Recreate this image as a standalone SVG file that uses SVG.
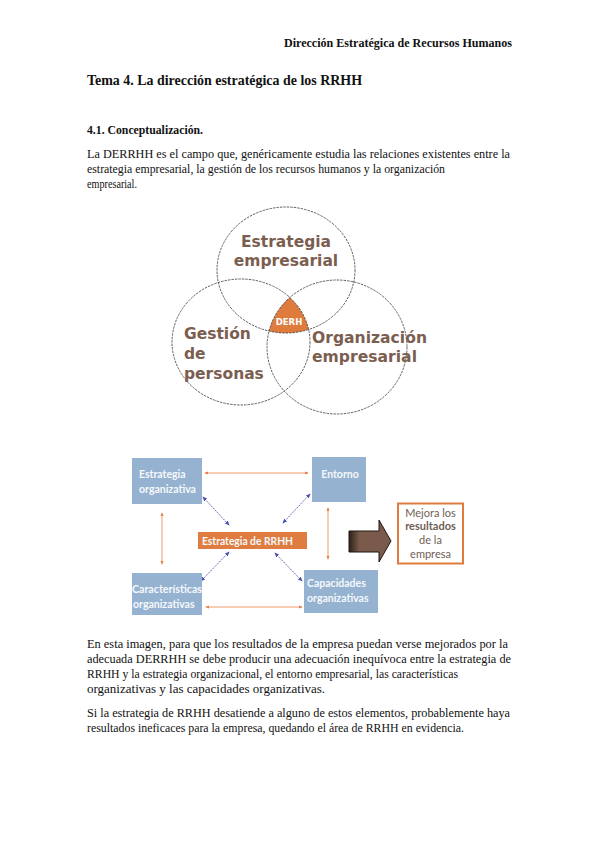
<svg xmlns="http://www.w3.org/2000/svg" width="599" height="848" viewBox="0 0 599 848">
<style>
.serif{font-family:"Liberation Serif","Times New Roman",serif;fill:#111}
.b{font-weight:bold}
.body{font-size:13px}
.venn{font-family:"DejaVu Sans",Verdana,sans-serif;font-weight:bold;fill:#7b5e50;font-size:15.5px}
.circ{fill:none;stroke:#3a3a3a;stroke-width:0.8;stroke-dasharray:2.5 1}
.box{fill:#95b3d1}
.bt{font-family:Lato,"Open Sans",sans-serif;font-weight:bold;font-size:10.5px;fill:#f6f8fb}
.oline{stroke:#ef9a6a;stroke-width:1;fill:none}
.bline{stroke:#5c5fc0;stroke-width:1;stroke-dasharray:1.5 1;fill:none}
.mt{font-family:Lato,"Open Sans",sans-serif;font-size:11px;fill:#6f5e55;text-anchor:middle}
</style>
<defs>
<marker id="oa" viewBox="0 0 6 6" refX="5" refY="3" markerWidth="4" markerHeight="4" orient="auto-start-reverse"><path d="M0,0.5 L6,3 L0,5.5 z" fill="#e8804a"/></marker>
<marker id="ba" viewBox="0 0 6 6" refX="5" refY="3" markerWidth="5" markerHeight="5" orient="auto-start-reverse"><path d="M0,0.5 L6,3 L0,5.5 z" fill="#4a4db5"/></marker>
<clipPath id="cL"><ellipse cx="241" cy="342" rx="69" ry="63"/></clipPath>
<clipPath id="cR"><ellipse cx="337" cy="347" rx="70" ry="67"/></clipPath>
<linearGradient id="ag" x1="0" y1="0" x2="1" y2="0"><stop offset="0" stop-color="#2e211b"/><stop offset="0.25" stop-color="#7a5a4a"/><stop offset="1" stop-color="#7a5a4a"/></linearGradient>
</defs>
<rect width="599" height="848" fill="#fff"/>

<g id="texts">
<text class="serif b" x="284" y="47" font-size="13" textLength="228" lengthAdjust="spacingAndGlyphs">Dirección Estratégica de Recursos Humanos</text>
<text class="serif b" x="87" y="85" font-size="14.5" textLength="275" lengthAdjust="spacingAndGlyphs">Tema 4. La dirección estratégica de los RRHH</text>
<text class="serif b" x="87" y="134" font-size="13" textLength="116" lengthAdjust="spacingAndGlyphs">4.1. Conceptualización.</text>
<text class="serif body" x="87" y="158" textLength="423" lengthAdjust="spacingAndGlyphs">La DERRHH es el campo que, genéricamente estudia las relaciones existentes entre la</text>
<text class="serif body" x="87" y="173" textLength="358" lengthAdjust="spacingAndGlyphs">estrategia empresarial, la gestión de los recursos humanos y la organización</text>
<text class="serif body" x="87" y="188" textLength="50" lengthAdjust="spacingAndGlyphs">empresarial.</text>

<text class="serif body" x="87" y="648" textLength="421" lengthAdjust="spacingAndGlyphs">En esta imagen, para que los resultados de la empresa puedan verse mejorados por la</text>
<text class="serif body" x="87" y="663" textLength="424" lengthAdjust="spacingAndGlyphs">adecuada DERRHH se debe producir una adecuación inequívoca entre la estrategia de</text>
<text class="serif body" x="87" y="678" textLength="371" lengthAdjust="spacingAndGlyphs">RRHH y la estrategia organizacional, el entorno empresarial, las características</text>
<text class="serif body" x="87" y="693">organizativas y las capacidades organizativas.</text>
<text class="serif body" x="87" y="717" textLength="423" lengthAdjust="spacingAndGlyphs">Si la estrategia de RRHH desatiende a alguno de estos elementos, probablemente haya</text>
<text class="serif body" x="87" y="732" textLength="377" lengthAdjust="spacingAndGlyphs">resultados ineficaces para la empresa, quedando el área de RRHH en evidencia.</text>
</g>

<g id="venn">
<g id="derh">
<g clip-path="url(#cL)"><g clip-path="url(#cR)"><ellipse cx="286" cy="270" rx="69" ry="63" fill="#e07b3e"/></g></g>
<text x="289" y="325" font-family="DejaVu Sans,sans-serif" font-weight="bold" font-size="8.5" fill="#fff" text-anchor="middle">DERH</text>
</g>
<g id="estrategia-empresarial">
<ellipse class="circ" cx="286" cy="270" rx="69" ry="63"/>
<text class="venn" x="286" y="247" text-anchor="middle">Estrategia</text>
<text class="venn" x="286" y="266" text-anchor="middle">empresarial</text>
</g>
<g id="gestion-personas">
<ellipse class="circ" cx="241" cy="342" rx="69" ry="63"/>
<text class="venn" x="184" y="339">Gestión</text>
<text class="venn" x="184" y="359">de</text>
<text class="venn" x="184" y="379">personas</text>
</g>
<g id="organizacion-empresarial">
<ellipse class="circ" cx="337" cy="347" rx="70" ry="67"/>
<text class="venn" x="312" y="343" textLength="115" lengthAdjust="spacingAndGlyphs">Organización</text>
<text class="venn" x="312" y="362" textLength="105" lengthAdjust="spacingAndGlyphs">empresarial</text>
</g>
</g>

<g id="connectors">
<line class="oline" x1="205" y1="473" x2="308" y2="473" marker-start="url(#oa)" marker-end="url(#oa)"/>
<line class="oline" x1="162" y1="513" x2="162" y2="564" marker-start="url(#oa)" marker-end="url(#oa)"/>
<line class="oline" x1="328" y1="508" x2="328" y2="559" marker-start="url(#oa)" marker-end="url(#oa)"/>
<line class="oline" x1="206" y1="607" x2="302" y2="607" marker-start="url(#oa)" marker-end="url(#oa)"/>
<line class="bline" x1="203" y1="497" x2="229" y2="525" marker-start="url(#ba)" marker-end="url(#ba)"/>
<line class="bline" x1="310" y1="494" x2="283" y2="523" marker-start="url(#ba)" marker-end="url(#ba)"/>
<line class="bline" x1="229" y1="552" x2="201" y2="581" marker-start="url(#ba)" marker-end="url(#ba)"/>
<line class="bline" x1="275" y1="553" x2="302" y2="581" marker-start="url(#ba)" marker-end="url(#ba)"/>
</g>

<g id="estrategia-organizativa">
<rect class="box" x="132" y="458" width="70" height="46"/>
<text class="bt" x="139" y="478">Estrategia</text>
<text class="bt" x="139" y="493">organizativa</text>
</g>
<g id="entorno">
<rect class="box" x="312" y="457" width="54" height="45"/>
<text class="bt" x="340" y="478" text-anchor="middle">Entorno</text>
</g>
<g id="caracteristicas-organizativas">
<rect class="box" x="132" y="573" width="70" height="42"/>
<text class="bt" x="132" y="593" textLength="70" lengthAdjust="spacingAndGlyphs">Características</text>
<text class="bt" x="133" y="608">organizativas</text>
</g>
<g id="capacidades-organizativas">
<rect class="box" x="304" y="570" width="74" height="43"/>
<text class="bt" x="307" y="587">Capacidades</text>
<text class="bt" x="307" y="602">organizativas</text>
</g>
<g id="estrategia-rrhh">
<rect x="198" y="532" width="109" height="17" fill="#df7d40"/>
<text class="bt" x="202" y="544.5" textLength="91" lengthAdjust="spacingAndGlyphs">Estrategia de RRHH</text>
</g>
<g id="flecha">
<path d="M349,531 H379 V520 L391,541 L379,562 V552 H349 Z" fill="url(#ag)" stroke="#1e1612" stroke-width="1"/>
</g>
<g id="mejora">
<rect x="398" y="503.5" width="65" height="60" fill="#fff" stroke="#e07b3e" stroke-width="2"/>
<text class="mt" x="430.5" y="517">Mejora los</text>
<text class="mt" x="430.5" y="530" font-weight="bold">resultados</text>
<text class="mt" x="430.5" y="544">de la</text>
<text class="mt" x="430.5" y="558">empresa</text>
</g>
</svg>
